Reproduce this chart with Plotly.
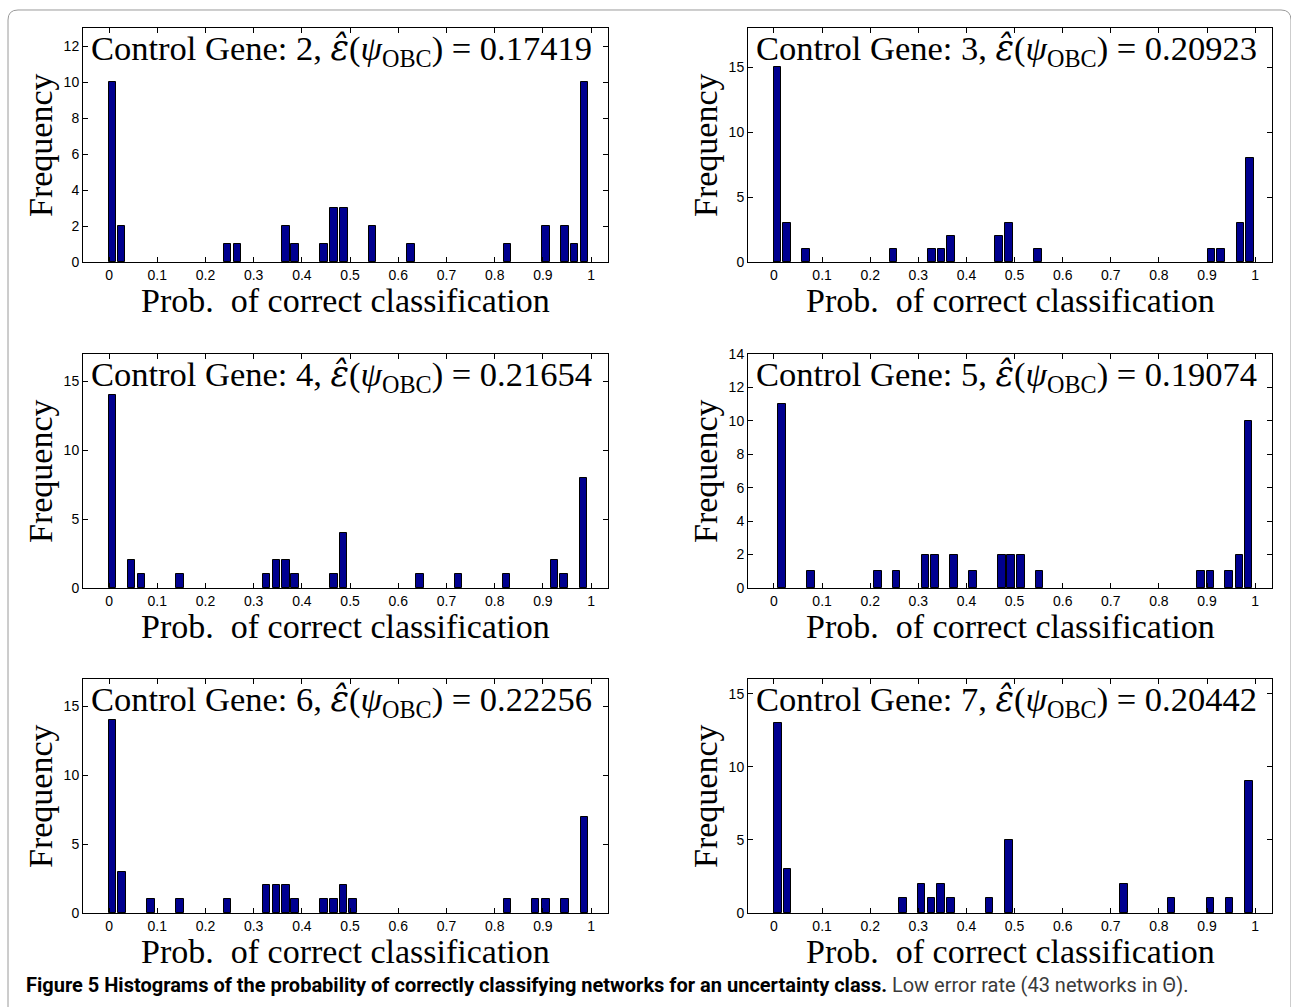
import plotly.graph_objects as go

W, H = 1291, 1007

# ---------------- data ----------------
genes = [2, 3, 4, 5, 6, 7]
error_rates = ["0.17419", "0.20923", "0.21654", "0.19074", "0.22256", "0.20442"]

centers_g2 = [0.007, 0.026, 0.246, 0.266, 0.367, 0.386, 0.446, 0.467, 0.487, 0.546,
              0.626, 0.826, 0.906, 0.946, 0.965, 0.986]
counts_g2 = [10, 2, 1, 1, 2, 1, 1, 3, 3, 2, 1, 1, 2, 2, 1, 10]

centers_g3 = [0.007, 0.027, 0.067, 0.248, 0.328, 0.348, 0.368, 0.468, 0.488, 0.549,
              0.909, 0.929, 0.969, 0.989]
counts_g3 = [15, 3, 1, 1, 1, 1, 2, 2, 3, 1, 1, 1, 3, 8]

centers_g4 = [0.007, 0.047, 0.067, 0.147, 0.327, 0.347, 0.367, 0.386, 0.467, 0.486,
              0.645, 0.725, 0.824, 0.924, 0.944, 0.984]
counts_g4 = [14, 2, 1, 1, 1, 2, 2, 1, 1, 4, 1, 1, 1, 2, 1, 8]

centers_g5 = [0.017, 0.077, 0.216, 0.255, 0.315, 0.335, 0.374, 0.414, 0.474, 0.493,
              0.513, 0.552, 0.887, 0.907, 0.946, 0.967, 0.986]
counts_g5 = [11, 1, 1, 1, 2, 2, 2, 1, 2, 2, 2, 1, 1, 1, 1, 2, 10]

centers_g6 = [0.007, 0.027, 0.087, 0.147, 0.246, 0.327, 0.347, 0.367, 0.386, 0.446,
              0.467, 0.486, 0.506, 0.826, 0.885, 0.906, 0.946, 0.986]
counts_g6 = [14, 3, 1, 1, 1, 2, 2, 2, 1, 1, 1, 2, 1, 1, 1, 1, 1, 7]

centers_g7 = [0.008, 0.028, 0.268, 0.307, 0.327, 0.347, 0.368, 0.448, 0.488, 0.727,
              0.826, 0.907, 0.947, 0.987]
counts_g7 = [13, 3, 1, 2, 1, 2, 1, 1, 5, 2, 1, 1, 1, 9]

all_centers = [centers_g2, centers_g3, centers_g4, centers_g5, centers_g6, centers_g7]
all_counts = [counts_g2, counts_g3, counts_g4, counts_g5, counts_g6, counts_g7]

y_max = [13, 18, 17, 14, 17, 16]
y_tick_vals = [[0, 2, 4, 6, 8, 10, 12], [0, 5, 10, 15], [0, 5, 10, 15],
               [0, 2, 4, 6, 8, 10, 12, 14], [0, 5, 10, 15], [0, 5, 10, 15]]
x_tick_vals = [0, 0.1, 0.2, 0.3, 0.4, 0.5, 0.6, 0.7, 0.8, 0.9, 1]
x_tick_text = ["0", "0.1", "0.2", "0.3", "0.4", "0.5", "0.6", "0.7", "0.8", "0.9", "1"]

x_label = "Prob.\u00a0 of correct classification"
y_label = "Frequency"
caption_bold = "Figure 5 Histograms of the probability of correctly classifying networks for an uncertainty class."
caption_rest = " Low error rate (43 networks in \u0398)."

# ---------------- layout geometry (pixels of the photographed page) ----------------
cols_px = [(83, 608), (748, 1272)]
rows_px = [(28, 262), (354, 588), (679, 913)]

# the figure is photographed 991 px tall, starting 8 px from the top
TOP_OFF, EFF_H = 8.0, 991.0

def px(x):
    return x / W

def py(y):
    return 1 - (y - TOP_OFF) / EFF_H

SERIF = "Liberation Serif, Times New Roman, serif"
SANS = "Liberation Sans, Arial, sans-serif"
SERIF_SIZE = 34
TITLE_SIZE = 34.5

fig = go.Figure()
layout = dict(
    width=W, height=H,
    margin=dict(l=0, r=0, t=0, b=0),
    paper_bgcolor="white", plot_bgcolor="white",
    showlegend=False,
    bargap=0,
)
annotations = []

for i in range(6):
    r, c = divmod(i, 2)
    x0, x1 = cols_px[c]
    y0, y1 = rows_px[r]
    n = "" if i == 0 else str(i + 1)
    fig.add_trace(go.Bar(
        x=all_centers[i], y=all_counts[i], width=0.0155,
        marker=dict(color="#00008F", line=dict(color="black", width=1)),
        xaxis="x" + n, yaxis="y" + n, hoverinfo="x+y",
    ))
    common = dict(
        ticks="inside", ticklen=5, tickwidth=1, tickcolor="black",
        showline=True, linecolor="black", linewidth=1, mirror="ticks",
        showgrid=False, zeroline=False,
        tickfont=dict(family=SANS, size=14, color="black"),
    )
    layout["xaxis" + n] = dict(
        domain=[px(x0), px(x1)], anchor="y" + n,
        range=[-0.054, 1.035], tickvals=x_tick_vals, ticktext=x_tick_text,
        **common,
    )
    layout["yaxis" + n] = dict(
        domain=[py(y1), py(y0)], anchor="x" + n,
        range=[0, y_max[i]], tickvals=y_tick_vals[i],
        ticktext=[str(v) for v in y_tick_vals[i]],
        **common,
    )
    # panel title inside the axes
    annotations.append(dict(
        xref="paper", yref="paper", x=px(x0 + 6), y=py(y0 + 22),
        xanchor="left", yanchor="middle", showarrow=False,
        text=("Control Gene: %d, <span style='font-family:DejaVu Serif'><i>\u03b5\u0302</i></span>"
              "(<i>\u03c8</i><sub>OBC</sub>) = %s") % (genes[i], error_rates[i]),
        font=dict(family=SERIF, size=TITLE_SIZE, color="black"),
    ))
    # y-axis label
    annotations.append(dict(
        xref="paper", yref="paper", x=px(x0 - 43), y=py((y0 + y1) / 2),
        xanchor="center", yanchor="middle", showarrow=False, textangle=-90,
        text=y_label, font=dict(family=SERIF, size=SERIF_SIZE, color="black"),
    ))
    # x-axis label
    annotations.append(dict(
        xref="paper", yref="paper", x=px((x0 + x1) / 2), y=py(y1 + 38),
        xanchor="center", yanchor="middle", showarrow=False,
        text=x_label, font=dict(family=SERIF, size=SERIF_SIZE, color="black"),
    ))

annotations.append(dict(
    xref="paper", yref="paper", x=px(24), y=py(985),
    xanchor="left", yanchor="middle", showarrow=False,
    text="<b>" + caption_bold + "</b><span style='color:#3a3a3a'>" + caption_rest + "</span>",
    font=dict(family="Roboto, sans-serif", size=20, color="black"),
))
layout["annotations"] = annotations

frame = "M %f,%f L %f,%f Q %f,%f %f,%f L %f,%f Q %f,%f %f,%f L %f,%f" % (
    px(8), py(1010), px(8), py(20), px(8), py(10), px(18), py(10),
    px(1281), py(10), px(1291), py(10), px(1291), py(20), px(1291), py(1010))
layout["shapes"] = [dict(type="path", xref="paper", yref="paper", path=frame,
                         line=dict(color="#9a9a9a", width=1))]

fig.update_layout(**layout)
fig.write_html("out.html")
